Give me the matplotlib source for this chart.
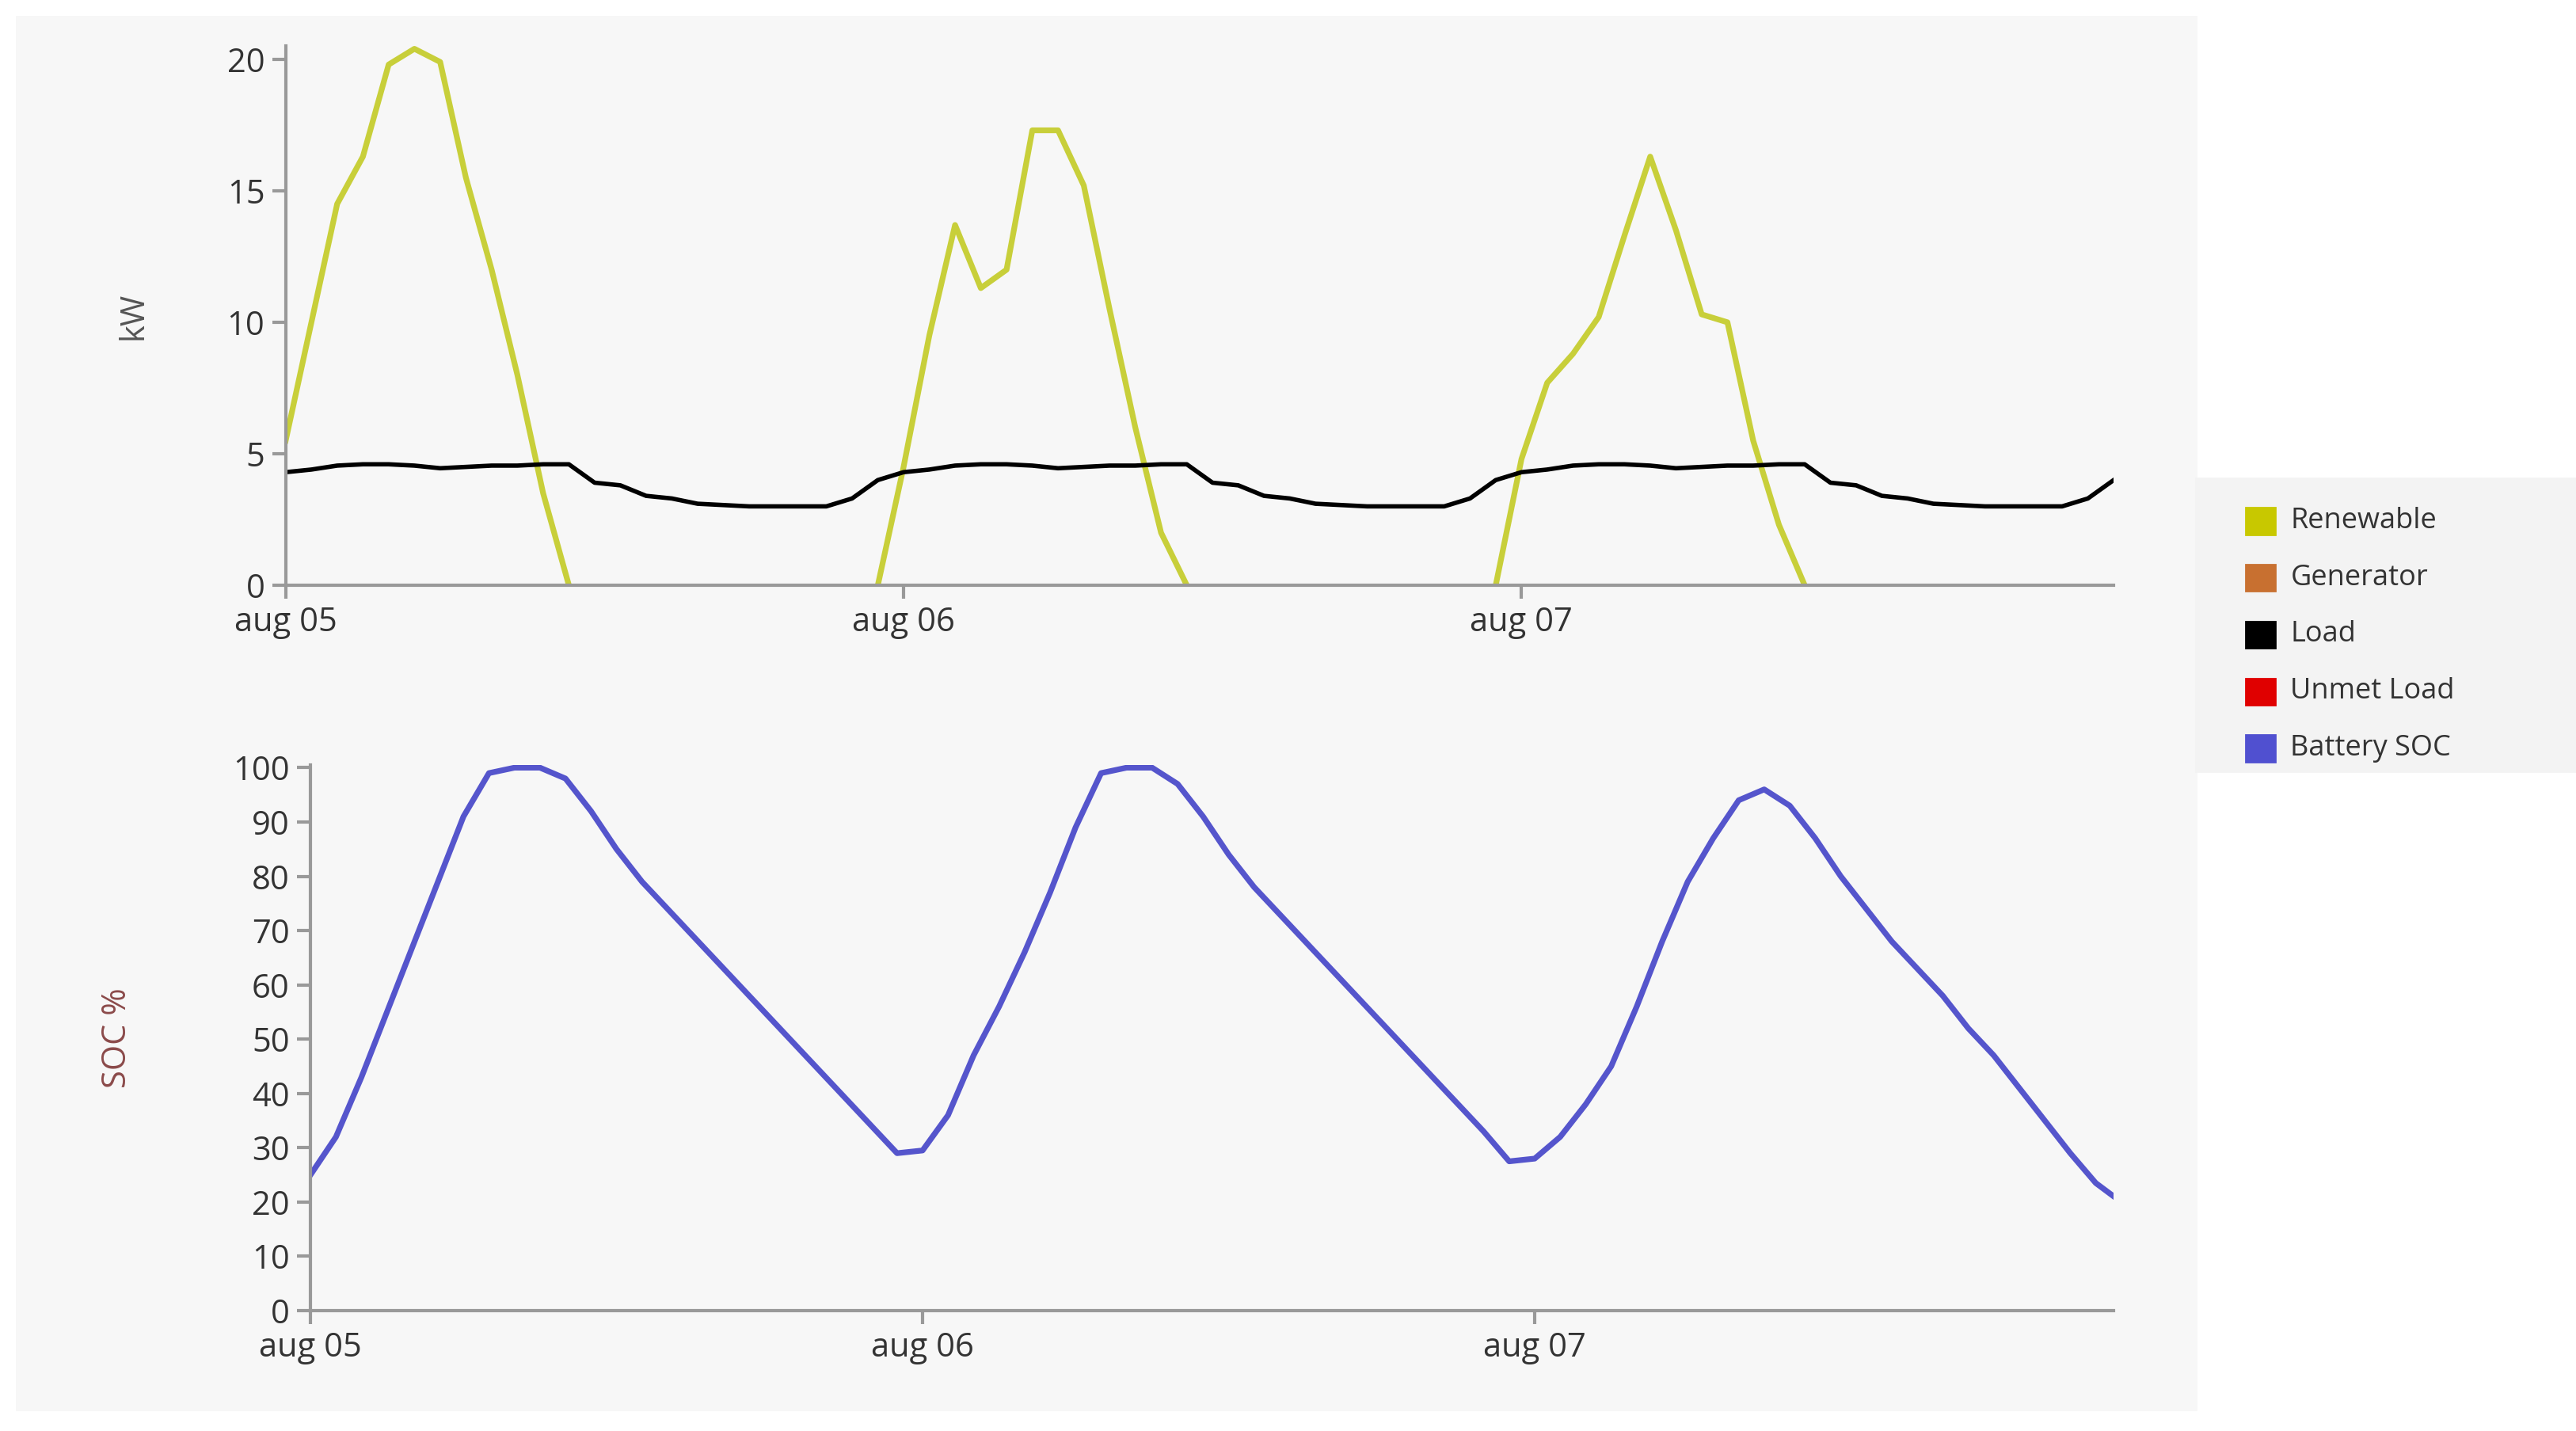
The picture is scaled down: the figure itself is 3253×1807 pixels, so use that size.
import numpy as np
import matplotlib.pyplot as plt
import matplotlib.patches as patches

plt.rcParams['font.family'] = ['Open Sans', 'DejaVu Sans']

NAN = np.nan
# hourly samples, aug 05 00:00 .. aug 07 23:00
hours = np.arange(72)

renewable = [5.5, 10, 14.5, 16.3, 19.8, 20.4, 19.9, 15.5, 12, 8, 3.5, 0] + [NAN] * 11 + \
    [0, 4.5, 9.5, 13.7, 11.3, 12, 17.3, 17.3, 15.2, 10.5, 6, 2, 0] + [NAN] * 11 + \
    [0, 4.8, 7.7, 8.8, 10.2, 13.3, 16.3, 13.5, 10.3, 10, 5.5, 2.3, 0] + [NAN] * 12

load_day = [4.3, 4.4, 4.55, 4.6, 4.6, 4.55, 4.45, 4.5, 4.55, 4.55, 4.6, 4.6,
            3.9, 3.8, 3.4, 3.3, 3.1, 3.05, 3.0, 3.0, 3.0, 3.0, 3.3, 3.4]
load = load_day[:] + load_day[:] + load_day[:-1] + [4.0]
load[23] = 4.0
load[47] = 4.0

soc = [25, 32, 43, 55, 67, 79, 91, 99, 100, 100, 98, 92,
       85, 79, 74, 69, 64, 59, 54, 49, 44, 39, 34, 29,
       29.5, 36, 47, 56, 66, 77, 89, 99, 100, 100, 97, 91,
       84, 78, 73, 68, 63, 58, 53, 48, 43, 38, 33, 27.5,
       28, 32, 38, 45, 56, 68, 79, 87, 94, 96, 93, 87,
       80, 74, 68, 63, 58, 52, 47, 41, 35, 29, 23.5, 20]

day_ticks = [0, 24, 48]
day_labels = ["aug 05", "aug 06", "aug 07"]

legend_items = [("Renewable", "#c8c800"), ("Generator", "#c87030"),
                ("Load", "#000000"), ("Unmet Load", "#e00000"),
                ("Battery SOC", "#5050d0")]

W, H = 1560, 868
fig = plt.figure(figsize=(16.265, 9.035), dpi=200)

def fx(x): return x / W
def fy(y): return 1 - y / H

# background panels in their own axes, drawn beneath everything
bg = fig.add_axes([0, 0, 1, 1], zorder=-10)
bg.set_axis_off()
bg.set_xlim(0, W)
bg.set_ylim(H, 0)
bg.add_patch(patches.Rectangle((10, 10), 1320, 845, color="#f7f7f7"))
bg.add_patch(patches.Rectangle((1330, 290), 230, 178, color="#f3f3f3"))

def style(ax):
    ax.set_facecolor("none")
    for s in ["top", "right"]:
        ax.spines[s].set_visible(False)
    for s in ["left", "bottom"]:
        ax.spines[s].set_color("#999999")
        ax.spines[s].set_linewidth(1.5)
    ax.tick_params(colors="#999999", labelcolor="#333333", labelsize=15, length=6, width=1.5)
    ax.set_xticks(day_ticks)
    ax.set_xticklabels(day_labels, fontsize=15)
    ax.set_xlim(0, 71)

ax1 = fig.add_axes([fx(173), fy(355), fx(1280 - 173), (355 - 28) / H])
style(ax1)
ax1.plot(hours, renewable, color="#c8cf3a", lw=2.6)
ax1.plot(hours, load, color="black", lw=2)
ax1.set_ylim(0, 20.5)
ax1.set_yticks([0, 5, 10, 15, 20])
ax1.set_ylabel("kW", color="#555555", fontsize=15, labelpad=35)

ax2 = fig.add_axes([fx(188), fy(795), fx(1280 - 188), (795 - 464) / H])
style(ax2)
ax2.plot(hours, soc, color="#5555cc", lw=2.6)
ax2.set_ylim(0, 100.5)
ax2.set_yticks(range(0, 101, 10))
ax2.set_xlim(0, 70.7)
ax2.set_ylabel("SOC %", color="#8b4a4a", fontsize=15, labelpad=45)

for i, (lab, c) in enumerate(legend_items):
    y = 316 + i * 34.5
    bg.add_patch(patches.Rectangle((1360, y - 8), 18, 16, color=c))
    bg.text(1387, y, lab, fontsize=13, color="#333333", va="center")

fig.savefig("out.png", dpi=200)
